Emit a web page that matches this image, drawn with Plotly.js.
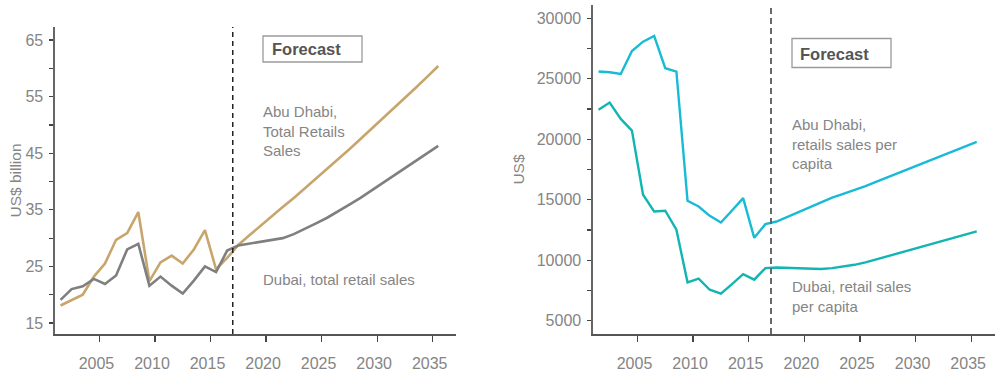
<!DOCTYPE html>
<html>
<head>
<meta charset="utf-8">
<script src="https://cdn.plot.ly/plotly-3.0.1.min.js"></script>
<style>html,body{margin:0;padding:0;background:#fff;}#chart{width:995px;height:373px;}</style>
</head>
<body>
<div id="chart"></div>
<script>
// Data: annual values, 2001-2035 (2017 onwards = forecast)
const years = [2001,2002,2003,2004,2005,2006,2007,2008,2009,2010,2011,2012,2013,2014,2015,2016,
  2017,2018,2019,2020,2021,2022,2023,2024,2025,2026,2027,2028,2029,2030,2031,2032,2033,2034,2035];

// US$ billion
const abuDhabiTotal = [18.1,19.0,20.0,23.2,25.5,29.7,30.9,34.6,22.4,25.7,26.9,25.5,28.0,31.4,24.5,26.5,
  28.8,30.5,32.2,33.9,35.5,37.1,38.8,40.5,42.2,43.9,45.7,47.5,49.3,51.1,52.9,54.8,56.6,58.5,60.4];
const dubaiTotal = [19.1,21.0,21.5,22.8,21.9,23.4,28.0,29.0,21.6,23.2,21.6,20.2,22.5,25.0,24.0,27.8,
  28.7,29.0,29.3,29.6,30.0,30.7,31.6,32.6,33.6,34.7,35.9,37.1,38.4,39.7,41.0,42.3,43.6,44.9,46.3];

// US$ per capita
const abuDhabiPerCapita = [25600,25540,25400,27300,28070,28540,25870,25590,14910,14440,13670,13120,14110,15130,11850,12980,
  13200,13600,14000,14400,14800,15170,15480,15790,16130,16500,16860,17230,17590,17960,18320,18690,19050,19420,19780];
const dubaiPerCapita = [22430,23030,21680,20720,15410,14030,14090,12520,8170,8470,7560,7230,8030,8850,8390,9350,
  9400,9380,9340,9300,9270,9350,9480,9620,9820,10080,10340,10600,10860,11120,11380,11640,11900,12140,12380];

const forecastStart = '2017-01-01';
const xTickFirst = '2005-01-01';

// Values are plotted at mid-year
const xDates = years.map(y => y + '-07-02');

const FONT = 'Liberation Sans, Arial, sans-serif';
const GREY_TXT = '#858585';

const traces = [
  {x: xDates, y: abuDhabiTotal, xaxis: 'x', yaxis: 'y', mode: 'lines', line: {color: '#c8a56c', width: 2.6}},
  {x: xDates, y: dubaiTotal, xaxis: 'x', yaxis: 'y', mode: 'lines', line: {color: '#7f7f7f', width: 2.6}},
  {x: xDates, y: abuDhabiPerCapita, xaxis: 'x2', yaxis: 'y2', mode: 'lines', line: {color: '#17bbd6', width: 2.4}},
  {x: xDates, y: dubaiPerCapita, xaxis: 'x2', yaxis: 'y2', mode: 'lines', line: {color: '#13b5b3', width: 2.4}}
];

function xAxis(domain, anchor) {
  return {
    type: 'date', domain: domain, anchor: anchor,
    range: ['2001-01-01', '2037-02-05'],
    tick0: xTickFirst, dtick: 'M60', tickformat: '%Y',
    ticks: 'outside', ticklen: 6, tickwidth: 1.3, tickcolor: '#444',
    showline: true, linecolor: '#555', linewidth: 1.6,
    showgrid: false, zeroline: false,
    ticklabelstandoff: 8, ticklabelshift: -3,
    tickfont: {family: FONT, size: 16, color: GREY_TXT}
  };
}
function yAxis(domain, anchor, range, dtick, tick0, title, standoff) {
  return {
    domain: domain, anchor: anchor, range: range,
    tick0: tick0, dtick: dtick, tickformat: 'd',
    ticks: 'outside', ticklen: 4, tickwidth: 1.2, tickcolor: '#444',
    minor: {dtick: dtick / 2, tick0: tick0, ticks: 'outside', ticklen: 4, tickwidth: 1.2, tickcolor: '#444', showgrid: false},
    showline: true, linecolor: '#666', linewidth: 1.6,
    showgrid: false, zeroline: false,
    ticklabelstandoff: 3,
    tickfont: {family: FONT, size: 16, color: GREY_TXT},
    title: {text: title, font: {family: FONT, size: 15.5, color: GREY_TXT}, standoff: standoff}
  };
}

const W = 995, H = 373;
const px = v => v / W;
const py = v => (H - v) / H;

const layout = {
  width: W, height: H,
  margin: {l: 0, r: 0, t: 0, b: 0},
  paper_bgcolor: '#fff', plot_bgcolor: '#fff',
  showlegend: false,
  xaxis: xAxis([px(55), px(456)], 'y'),
  yaxis: yAxis([py(334), py(27)], 'x', [13.06, 67.3], 10, 15, 'US$ billion', 0),
  xaxis2: xAxis([px(593), px(994.5)], 'y2'),
  yaxis2: yAxis([py(334), py(5)], 'x2', [3900, 31100], 5000, 5000, 'US$', 8),
  shapes: [
    {type: 'line', xref: 'x', yref: 'y domain', x0: forecastStart, x1: forecastStart, y0: 0, y1: 1,
     line: {color: '#222', width: 1.5, dash: '5px,4px'}},
    {type: 'line', xref: 'x2', yref: 'y2 domain', x0: forecastStart, x1: forecastStart, y0: 0, y1: 1,
     line: {color: '#666', width: 2, dash: '6px,4px'}},
    {type: 'rect', xref: 'paper', yref: 'paper', x0: px(263), x1: px(362), y0: py(62), y1: py(36),
     line: {color: '#9a9a9a', width: 1.3}},
    {type: 'rect', xref: 'paper', yref: 'paper', x0: px(792), x1: px(891), y0: py(67.5), y1: py(38.5),
     line: {color: '#9a9a9a', width: 1.3}}
  ],
  annotations: [
    {xref: 'paper', yref: 'paper', x: px(270), y: py(49), xanchor: 'left', yanchor: 'middle', showarrow: false,
     text: '<b>Forecast</b>', font: {family: FONT, size: 16.5, color: '#555'}},
    {xref: 'paper', yref: 'paper', x: px(798), y: py(54), xanchor: 'left', yanchor: 'middle', showarrow: false,
     text: '<b>Forecast</b>', font: {family: FONT, size: 16.5, color: '#555'}},
    {xref: 'paper', yref: 'paper', x: px(261), y: py(131), xanchor: 'left', yanchor: 'middle', align: 'left', showarrow: false,
     text: 'Abu Dhabi,<br>Total Retails<br>Sales', font: {family: FONT, size: 15, color: GREY_TXT}},
    {xref: 'paper', yref: 'paper', x: px(261), y: py(279), xanchor: 'left', yanchor: 'middle', align: 'left', showarrow: false,
     text: 'Dubai, total retail sales', font: {family: FONT, size: 15, color: GREY_TXT}},
    {xref: 'paper', yref: 'paper', x: px(790), y: py(144), xanchor: 'left', yanchor: 'middle', align: 'left', showarrow: false,
     text: 'Abu Dhabi,<br>retails sales per<br>capita', font: {family: FONT, size: 15, color: GREY_TXT}},
    {xref: 'paper', yref: 'paper', x: px(790), y: py(296), xanchor: 'left', yanchor: 'middle', align: 'left', showarrow: false,
     text: 'Dubai, retail sales<br>per capita', font: {family: FONT, size: 15, color: GREY_TXT}}
  ]
};

Plotly.newPlot('chart', traces, layout, {staticPlot: true, displayModeBar: false});
</script>
</body>
</html>
